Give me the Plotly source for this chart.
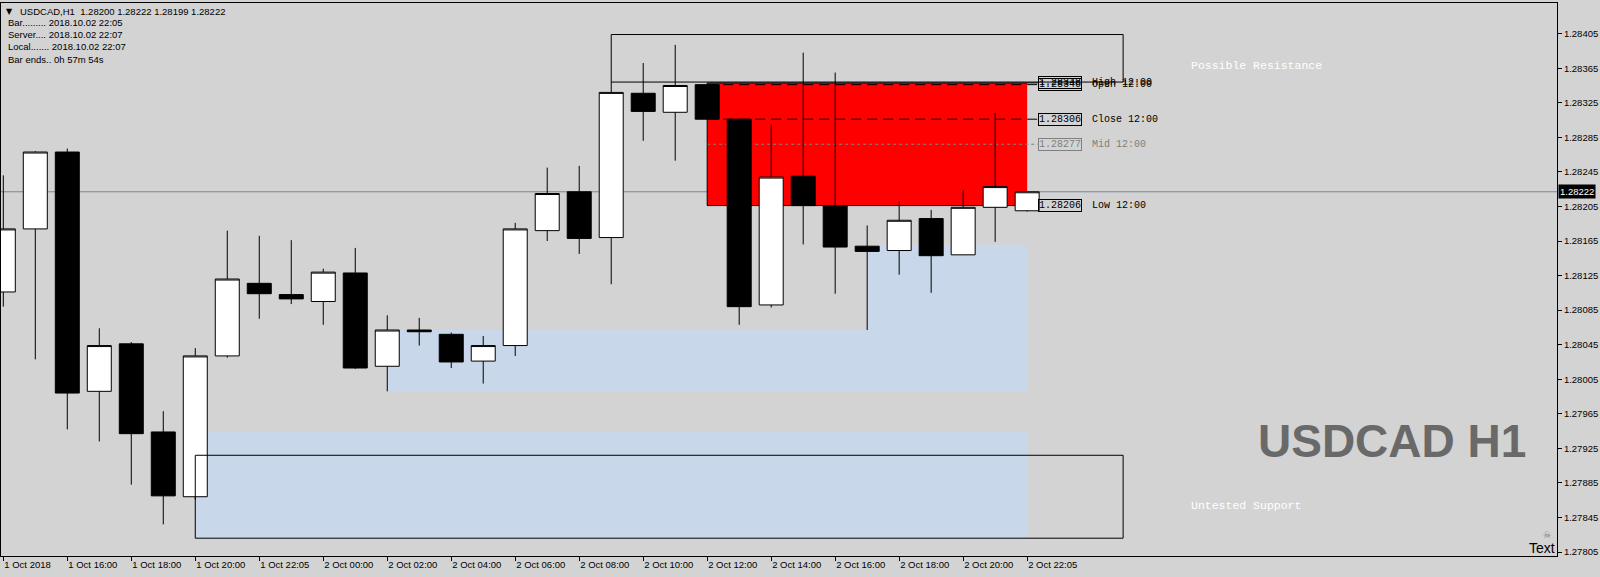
import plotly.graph_objects as go

# ---------------- data ----------------
bar_index = list(range(33))
open_ = [1.28106, 1.28179, 1.28268, 1.27991, 1.28046, 1.27944, 1.27869, 1.28032, 1.28116, 1.28103,
         1.28095, 1.28128, 1.28020, 1.28062, 1.28057, 1.28026, 1.28044, 1.28177, 1.28222, 1.28169,
         1.28336, 1.28314, 1.28346, 1.28306, 1.28091, 1.28240, 1.28206, 1.28159, 1.28154, 1.28191,
         1.28149, 1.28204, 1.28200]
high_ = [1.28241, 1.28269, 1.28272, 1.28064, 1.28048, 1.27968, 1.28041, 1.28177, 1.28171, 1.28166,
         1.28133, 1.28157, 1.28079, 1.28076, 1.28059, 1.28055, 1.28186, 1.28250, 1.28252, 1.28349,
         1.28371, 1.28392, 1.28348, 1.28307, 1.28300, 1.28383, 1.28360, 1.28183, 1.28211, 1.28201,
         1.28224, 1.28313, 1.28222]
low_ = [1.28089, 1.28028, 1.27947, 1.27933, 1.27883, 1.27837, 1.27866, 1.28030, 1.28075, 1.28092,
        1.28068, 1.28017, 1.27991, 1.28044, 1.28018, 1.28000, 1.28032, 1.28165, 1.28150, 1.28115,
        1.28281, 1.28258, 1.28206, 1.28068, 1.28088, 1.28161, 1.28104, 1.28062, 1.28126, 1.28105,
        1.28149, 1.28164, 1.28199]
close_ = [1.28179, 1.28268, 1.27989, 1.28044, 1.27942, 1.27870, 1.28032, 1.28121, 1.28104, 1.28098,
          1.28129, 1.28018, 1.28062, 1.28060, 1.28025, 1.28044, 1.28179, 1.28220, 1.28168, 1.28337,
          1.28315, 1.28345, 1.28306, 1.28089, 1.28239, 1.28206, 1.28158, 1.28153, 1.28189, 1.28148,
          1.28204, 1.28228, 1.28222]

x_tick_index = list(range(0, 33, 2))
x_tick_labels = ["1 Oct 2018", "1 Oct 16:00", "1 Oct 18:00", "1 Oct 20:00", "1 Oct 22:05",
                 "2 Oct 00:00", "2 Oct 02:00", "2 Oct 04:00", "2 Oct 06:00", "2 Oct 08:00",
                 "2 Oct 10:00", "2 Oct 12:00", "2 Oct 14:00", "2 Oct 16:00", "2 Oct 18:00",
                 "2 Oct 20:00", "2 Oct 22:05"]
y_tick_values = [1.27805, 1.27845, 1.27885, 1.27925, 1.27965, 1.28005, 1.28045, 1.28085, 1.28125,
                 1.28165, 1.28205, 1.28245, 1.28285, 1.28325, 1.28365, 1.28405]
y_tick_labels = ["%.5f" % v for v in y_tick_values]

# zones: (start bar, end bar, low price, high price)
demand_zones = [(6, 32, 1.27821, 1.27944), (12, 32, 1.27991, 1.28062), (27, 32, 1.28062, 1.28160)]
supply_zone = (22, 32, 1.28206, 1.28348)
resistance_box = (19, 35, 1.28349, 1.28404)
support_box = (6, 35, 1.27821, 1.27917)

current_price = 1.28222
ref_bar = 22  # 12:00 candle
level_names = ["Open", "High", "Close", "Mid", "Low"]
level_values = [1.28346, 1.28348, 1.28306, 1.28277, 1.28206]
level_colors = ["black", "black", "black", "#808080", "black"]
level_dash = ["10px,6px", "solid", "10px,6px", "3px,3px", "solid"]

SANS = "Liberation Sans, Arial"
MONO = "Liberation Mono, Courier New, monospace"
FS = 9.5

fig = go.Figure()

fig.add_trace(go.Candlestick(
    x=bar_index, open=open_, high=high_, low=low_, close=close_,
    increasing=dict(line=dict(color="black", width=1), fillcolor="white"),
    decreasing=dict(line=dict(color="black", width=1), fillcolor="black"),
    whiskerwidth=0, showlegend=False, hoverinfo="skip",
))

shapes = []
for (x0, x1, y0, y1) in demand_zones:
    shapes.append(dict(type="rect", xref="x", yref="y", x0=x0, x1=x1, y0=y0, y1=y1,
                       fillcolor="#C8D8EA", line=dict(width=0), layer="below"))
shapes.append(dict(type="rect", xref="x", yref="y", x0=supply_zone[0], x1=supply_zone[1],
                   y0=supply_zone[2], y1=supply_zone[3], fillcolor="#FF0000",
                   line=dict(width=0), layer="below"))
# current price line
shapes.append(dict(type="line", xref="paper", yref="y", x0=0, x1=1, y0=current_price, y1=current_price,
                   line=dict(color="#778899", width=1), layer="below"))
label_box_x = 32.33
for v, c, d in zip(level_values, level_colors, level_dash):
    shapes.append(dict(type="line", xref="x", yref="y", x0=ref_bar, x1=label_box_x, y0=v, y1=v,
                       line=dict(color=c, width=1, dash=d), layer="below"))
for (x0, x1, y0, y1) in (resistance_box, support_box):
    shapes.append(dict(type="rect", xref="x", yref="y", x0=x0, x1=x1, y0=y0, y1=y1,
                       fillcolor="rgba(0,0,0,0)", line=dict(color="black", width=1), layer="above"))

ann = []
# level labels
for name, v, c in zip(level_names, level_values, level_colors):
    ann.append(dict(x=label_box_x, y=v, xref="x", yref="y", xanchor="left", yanchor="middle",
                    text="%.5f" % v, showarrow=False, bordercolor=c, borderwidth=1, borderpad=0,
                    font=dict(family=MONO, size=10, color=c)))
    ann.append(dict(x=33.96, y=v, xref="x", yref="y", xanchor="left", yanchor="middle",
                    text="%s 12:00" % name, showarrow=False,
                    font=dict(family=MONO, size=10, color=c)))

ann.append(dict(x=37.05, y=1.28368, xref="x", yref="y", xanchor="left", yanchor="middle",
                text="Possible Resistance", showarrow=False,
                font=dict(family=MONO, size=11.5, color="white")))
ann.append(dict(x=37.05, y=1.27859, xref="x", yref="y", xanchor="left", yanchor="middle",
                text="Untested Support", showarrow=False,
                font=dict(family=MONO, size=11.5, color="white")))
ann.append(dict(x=43.4, y=1.27934, xref="x", yref="y", xanchor="center", yanchor="middle",
                text="<b>USDCAD H1</b>", showarrow=False,
                font=dict(family=SANS, size=46, color="#696969")))

# current price tag on axis
ann.append(dict(x=1, y=current_price, xref="paper", yref="y", xanchor="left", yanchor="middle",
                xshift=1, text="1.28222", showarrow=False, bgcolor="black", borderpad=1,
                font=dict(family=SANS, size=FS, color="white")))

# "Text" object bottom right
ann.append(dict(x=1, y=0, xref="paper", yref="paper", xanchor="right", yanchor="middle",
                yshift=8, text="Text", showarrow=False,
                font=dict(family=SANS, size=14, color="black")))
ann.append(dict(x=1, y=0, xref="paper", yref="paper", xanchor="center", yanchor="middle",
                xshift=-10, yshift=21, text="☠", showarrow=False,
                font=dict(family="DejaVu Sans", size=9, color="#808080")))

# info text top-left
info_lines = ["USDCAD,H1  1.28200 1.28222 1.28199 1.28222",
              "Bar......... 2018.10.02 22:05",
              "Server.... 2018.10.02 22:07",
              "Local....... 2018.10.02 22:07",
              "Bar ends.. 0h 57m 54s"]
info_y = [11, 22.5, 34.7, 46.9, 59.2]
info_x = [17, 5, 5, 5, 5]
for t, yy, xx in zip(info_lines, info_y, info_x):
    ann.append(dict(x=0, y=1, xref="paper", yref="paper", xanchor="left", yanchor="middle",
                    xshift=xx, yshift=-(yy - 3), text=t, showarrow=False,
                    font=dict(family=SANS, size=FS, color="black")))
ann.append(dict(x=0, y=1, xref="paper", yref="paper", xanchor="left", yanchor="middle",
                xshift=3, yshift=-8, text="▼", showarrow=False,
                font=dict(family="DejaVu Sans", size=8, color="black")))

fig.update_layout(
    width=1600, height=577,
    margin=dict(l=1, r=43, t=3, b=21, pad=0),
    paper_bgcolor="#D3D3D3", plot_bgcolor="#D3D3D3",
    shapes=shapes, annotations=ann,
    boxgap=0.25, boxgroupgap=0,
    showlegend=False, hovermode=False,
    xaxis=dict(range=[-0.072, 48.56], showgrid=False, zeroline=False, automargin=False,
               showline=True, linecolor="black", linewidth=1, mirror=True,
               ticks="outside", ticklen=4, tickcolor="black", tickangle=0,
               tickvals=x_tick_index, ticktext=x_tick_labels,
               ticklabelposition="outside right",
               tickfont=dict(family=SANS, size=FS, color="black"),
               rangeslider=dict(visible=False), fixedrange=True),
    yaxis=dict(range=[1.278004, 1.284405], side="right", showgrid=False, zeroline=False,
               automargin=False,
               showline=True, linecolor="black", linewidth=1, mirror=True,
               ticks="outside", ticklen=4, tickcolor="black",
               tickvals=y_tick_values, ticktext=y_tick_labels,
               tickfont=dict(family=SANS, size=FS, color="black"), fixedrange=True),
)

fig.write_html("out.html", config={"displayModeBar": False},
               post_script="document.body.style.margin='0';document.body.style.background='#D3D3D3';")
